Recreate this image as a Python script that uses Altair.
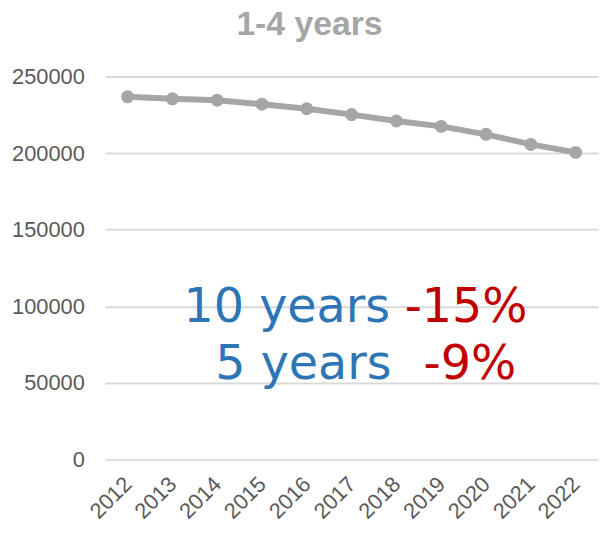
import altair as alt
import pandas as pd

years = ["2012", "2013", "2014", "2015", "2016", "2017", "2018", "2019", "2020", "2021", "2022"]
children = [236800, 235500, 234600, 232000, 229000, 225200, 221000, 217500, 212300, 205700, 200500]
y_ticks = [0, 50000, 100000, 150000, 200000, 250000]
title_text = ["1-4 years"]
ann_periods = ["10 years", "5 years"]
ann_changes = ["-15%", "-9%"]

df = pd.DataFrame({"year": years, "value": children})

GREY = "#A6A6A6"
BLUE = "#2E75B6"
RED = "#C00000"
LABEL_FONT = "Liberation Sans"

line = alt.Chart(df).mark_line(
    color=GREY, strokeWidth=6,
    point=alt.OverlayMarkDef(filled=True, size=170, color=GREY, opacity=1),
).encode(
    x=alt.X("year:O", title=None, sort=years,
            axis=alt.Axis(labelAngle=-45, labelAlign="right", labelBaseline="middle",
                          labelPadding=21, ticks=False, domain=False, grid=False,
                          labelOverlap=False)),
    y=alt.Y("value:Q", title=None, scale=alt.Scale(domain=[0, 250000], nice=False),
            axis=alt.Axis(values=y_ticks, format="d", ticks=False, domain=False,
                          grid=True, gridColor="#D9D9D9", gridWidth=2,
                          labelPadding=21)),
)


def txt(text, x, y, color, size, font, weight="normal", align="left"):
    return alt.Chart(pd.DataFrame({"t": [text]})).mark_text(
        x=x, y=y, align=align, baseline="alphabetic", fontSize=size,
        font=font, color=color, fontWeight=weight,
    ).encode(text="t:N")


texts = [
    txt(title_text[0], 206, -42, GREY, 34, "Liberation Sans", "bold", "center"),
    txt(ann_periods[0], 79, 247, BLUE, 48, "DejaVu Sans"),
    txt(ann_changes[0], 302, 247, RED, 48, "DejaVu Sans"),
    txt(ann_periods[1], 111, 305, BLUE, 48, "DejaVu Sans"),
    txt(ann_changes[1], 321, 305, RED, 48, "DejaVu Sans"),
]

chart = alt.layer(line, *texts).properties(
    width=497, height=386,
    autosize=alt.AutoSizeParams(type="none"),
    padding={"left": 98, "top": 67, "right": 2, "bottom": 66},
).configure_view(stroke=None).configure_axis(
    labelFont=LABEL_FONT, labelFontSize=22, labelColor="#595959",
)

chart.save("out.html", embed_options={"renderer": "svg", "actions": False})
